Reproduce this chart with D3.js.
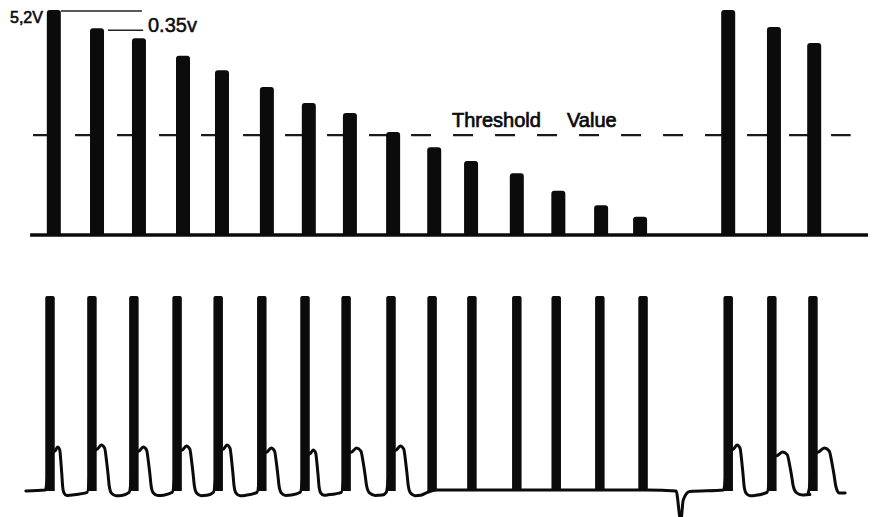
<!DOCTYPE html>
<html><head><meta charset="utf-8">
<script src="https://cdn.jsdelivr.net/npm/d3@7"></script>
<style>html,body{margin:0;padding:0;background:#fff;overflow:hidden}</style>
</head><body><svg id="c" width="874" height="517"></svg>
<script>
// ---------- data ----------
// time in pulse periods, amplitudes in volts (top) / normalised (bottom)
const barTimes  = [0.09,1.11,2.10,3.14,4.06,5.12,6.11,7.08,8.10,9.07,9.94,11.02,12.00,13.01,13.93,16.01,17.09,18.04];
const barVolts  = [5.20,4.78,4.55,4.14,3.81,3.42,3.05,2.82,2.38,2.03,1.71,1.43,1.02,0.69,0.42,5.20,4.81,4.44];
const thresholdVolts = 2.31;
const pulseTimes = [0,0.99,1.98,3.00,3.97,5.00,6.02,6.99,8.05,9.02,9.96,11.02,11.95,12.98,14.00,16.01,17.04,18.01];
const pulseLevel = 1;
const humpPeaks = [0.222,0.232,0.222,0.227,0.232,0.216,0.206,0.216,0.227,0,0,0,0,0,0,0.232,0.196,0.216];
const humpDrop  = [0.28,0.38,0.38,0.38,0.35,0.38,0.31,0.45,0.38,0,0,0,0,0,0,0.35,0.47,0.50];
const humpU     = [0,0.4,0.7,0.88,1.0,1.1,1.3,1.7,2.2];
const humpFrac  = [0.9,1.0,0.93,0.62,0.35,0.1,-0.07,-0.13,-0.12];
const spikeT = [14.78,14.89,14.95,15.10];
const spikeV = [-0.005,-0.16,-0.05,-0.008];
const waveStartT = -0.57, waveEndT = 18.77, waveEndV = -0.015;
const peakLabel = "5,2V", stepLabel = "0.35v", thrWord1 = "Threshold", thrWord2 = "Value";

// ---------- scales ----------
const svg = d3.select("#c");
const ink = "#0b0b0b";
const x  = d3.scaleLinear().domain([0,18]).range([50,812.5]);
const yT = d3.scaleLinear().domain([0,5.2]).range([235,10]);
const yB = d3.scaleLinear().domain([0,1]).range([490,296]);
const barW = 14, pulseW = 9.5;

svg.append("rect").attr("width",874).attr("height",517).attr("fill","#fff");

// ---------- top panel ----------
svg.append("line").attr("x1",x(-0.4)).attr("x2",x(18.9))
  .attr("y1",yT(thresholdVolts)).attr("y2",yT(thresholdVolts))
  .attr("stroke","#1a1a1a").attr("stroke-width",2.2).attr("stroke-dasharray","20,22");

function roundTop(x0,x1,yt,yb,r){
  return `M${x0},${yb}V${yt+r}Q${x0},${yt} ${x0+r},${yt}H${x1-r}Q${x1},${yt} ${x1},${yt+r}V${yb}Z`;
}
svg.append("g").selectAll("path").data(barTimes).join("path")
  .attr("d",(t,i)=>roundTop(x(t)-barW/2,x(t)+barW/2,yT(barVolts[i]),yT(0),3))
  .attr("fill",ink);

svg.append("line").attr("x1",x(-0.47)).attr("x2",x(19.31))
  .attr("y1",yT(0)).attr("y2",yT(0)).attr("stroke",ink).attr("stroke-width",3.5);

// annotation
svg.append("line").attr("x1",x(barTimes[0])+barW/2).attr("x2",x(2.17))
  .attr("y1",yT(barVolts[0])+1).attr("y2",yT(barVolts[0])+1).attr("stroke","#222").attr("stroke-width",1.5);
svg.append("line").attr("x1",x(barTimes[1])+barW/2+4).attr("x2",x(2.2))
  .attr("y1",yT(barVolts[1])+2).attr("y2",yT(barVolts[1])+2).attr("stroke","#222").attr("stroke-width",1.5);
const tf = "'Liberation Sans', Arial, sans-serif";
svg.append("text").attr("x",10).attr("y",23).text(peakLabel)
  .attr("font-family",tf).attr("font-size",16).attr("fill",ink).attr("stroke",ink).attr("stroke-width",0.6);
svg.append("text").attr("x",148).attr("y",32).text(stepLabel)
  .attr("font-family",tf).attr("font-size",20).attr("fill",ink).attr("stroke",ink).attr("stroke-width",0.5);
svg.append("text").attr("x",452).attr("y",127).text(thrWord1)
  .attr("font-family",tf).attr("font-size",20).attr("fill",ink).attr("stroke",ink).attr("stroke-width",0.7);
svg.append("text").attr("x",567).attr("y",127).text(thrWord2)
  .attr("font-family",tf).attr("font-size",20).attr("fill",ink).attr("stroke",ink).attr("stroke-width",0.7);

// ---------- bottom panel ----------
const pts = [[x(waveStartT), -0.005]];
pulseTimes.forEach((tc,i)=>{
  const xc = x(tc), xl = xc-pulseW/2, xr = xc+pulseW/2;
  const arrive = (i>0 && humpPeaks[i-1]>0) ? -0.012 : 0;
  pts.push([xl, arrive]);
  if (humpPeaks[i]>0){
    pts.push([xc+1, humpFrac[0]*humpPeaks[i]]);
    const s = x(tc+humpDrop[i]) - xr;
    humpU.forEach((u,k)=>{
      const px = xr + u*s;
      if (i < pulseTimes.length-1 || px < x(waveEndT)-2) pts.push([px, humpFrac[k]*humpPeaks[i]]);
    });
  } else {
    pts.push([xr, 0]);
  }
  const next = i < pulseTimes.length-1 ? pulseTimes[i+1] : Infinity;
  spikeT.forEach((st,k)=>{ if (st>tc && st<next) pts.push([x(st), spikeV[k]]); });
});
pts.push([x(waveEndT), waveEndV]);

svg.append("path").datum(pts)
  .attr("d", d3.line().x(d=>d[0]).y(d=>yB(d[1])).curve(d3.curveMonotoneX))
  .attr("fill","none").attr("stroke",ink).attr("stroke-width",3).attr("stroke-linejoin","round").attr("stroke-linecap","round");

svg.append("g").selectAll("path").data(pulseTimes).join("path")
  .attr("d",t=>roundTop(x(t)-pulseW/2,x(t)+pulseW/2,yB(pulseLevel),yB(0)+1,2))
  .attr("fill",ink);
</script></body></html>
